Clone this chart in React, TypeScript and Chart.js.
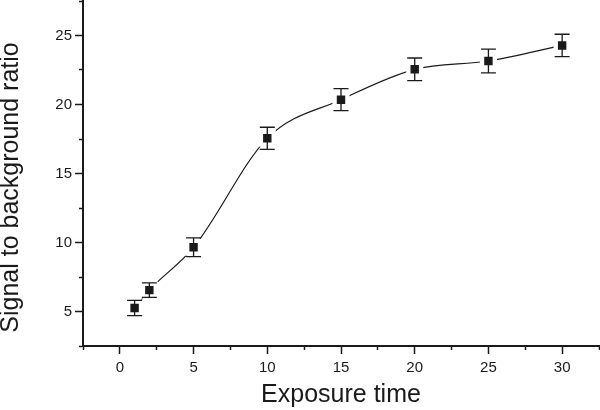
import { useEffect, useRef } from "react";
import { Chart, registerables } from "chart.js";

Chart.register(...registerables);

// ---- data ----
const exposureTimes = [1, 2, 5, 10, 15, 20, 25, 30];
const ratios = [5.25, 6.55, 9.65, 17.55, 20.35, 22.55, 23.15, 24.28];
const ratioErrors = [0.55, 0.52, 0.68, 0.8, 0.8, 0.82, 0.86, 0.81];
const xMajorTicks = [0, 5, 10, 15, 20, 25, 30];
const yMajorTicks = [5, 10, 15, 20, 25];
const xTitle = "Exposure time";
const yTitle = "Signal to background ratio";

const FONT = '"Liberation Sans", Arial, Helvetica, sans-serif';
const INK = "#1a1a1a";

function stepTicks(min: number, max: number, step: number) {
  const out: { value: number }[] = [];
  for (let v = min; v <= max + 1e-9; v += step) out.push({ value: Math.round(v * 100) / 100 });
  return out;
}

function zeroPadding(s: any) {
  s.paddingLeft = 0;
  s.paddingRight = 0;
  s.paddingTop = 0;
  s.paddingBottom = 0;
}

const errorBarPlugin = {
  id: "errorBars",
  afterDatasetsDraw(chart: any) {
    const { ctx, scales } = chart;
    const x = scales.x;
    const y = scales.y;
    ctx.save();
    ctx.strokeStyle = INK;
    ctx.lineWidth = 1.3;
    exposureTimes.forEach((t, i) => {
      const px = x.getPixelForValue(t);
      const top = y.getPixelForValue(ratios[i] + ratioErrors[i]);
      const bot = y.getPixelForValue(ratios[i] - ratioErrors[i]);
      ctx.beginPath();
      ctx.moveTo(px, top);
      ctx.lineTo(px, bot);
      ctx.moveTo(px - 7.5, top);
      ctx.lineTo(px + 7.5, top);
      ctx.moveTo(px - 7.5, bot);
      ctx.lineTo(px + 7.5, bot);
      ctx.stroke();
    });
    ctx.restore();
  },
};

const yTitlePlugin = {
  id: "yTitleText",
  afterDraw(chart: any) {
    const ctx = chart.ctx;
    const area = chart.chartArea;
    ctx.save();
    ctx.translate(11, (area.top + area.bottom) / 2 + 14);
    ctx.rotate(-Math.PI / 2);
    ctx.font = `25px ${FONT}`;
    ctx.fillStyle = INK;
    ctx.textAlign = "center";
    ctx.textBaseline = "middle";
    ctx.fillText(yTitle, 0, 0);
    ctx.restore();
  },
};

export default function App() {
  const canvasRef = useRef<HTMLCanvasElement | null>(null);

  useEffect(() => {
    document.body.style.margin = "0";
    const canvas = canvasRef.current;
    if (!canvas) return;
    const chart = new Chart(canvas, {
      type: "line",
      data: {
        datasets: [
          {
            data: exposureTimes.map((t, i) => ({ x: t, y: ratios[i] })),
            borderColor: INK,
            borderWidth: 1.2,
            cubicInterpolationMode: "monotone",
            fill: false,
            pointStyle: "rect",
            pointRadius: 9,
            pointBackgroundColor: INK,
            pointBorderColor: "#ffffff",
            pointBorderWidth: 4.3,
            pointHoverRadius: 9,
            clip: false,
          } as any,
        ],
      },
      options: {
        animation: false,
        responsive: false,
        events: [],
        layout: { autoPadding: false, padding: { top: 1, right: 1, left: 0, bottom: 0 } },
        plugins: { legend: { display: false }, tooltip: { enabled: false } },
        scales: {
          x: {
            type: "linear",
            min: -2.5,
            max: 32.5,
            afterBuildTicks: (s: any) => {
              s.ticks = stepTicks(-2.5, 32.5, 2.5);
            },
            afterFit: (s: any) => {
              s.height = 64;
              zeroPadding(s);
            },
            ticks: {
              autoSkip: false,
              maxRotation: 0,
              padding: 5,
              color: INK,
              font: { size: 15, family: FONT },
              callback: (v: any) => (xMajorTicks.includes(Number(v)) ? String(v) : ""),
            },
            grid: {
              drawOnChartArea: false,
              drawTicks: true,
              tickLength: 8,
              tickWidth: 1.5,
              tickColor: INK,
              tickBorderDash: (c: any) =>
                c.tick && xMajorTicks.includes(c.tick.value) ? [] : [3, 100],
            } as any,
            border: { display: true, color: INK, width: 2 },
            title: {
              display: true,
              text: xTitle,
              color: INK,
              font: { size: 25, family: FONT, lineHeight: 1 },
              padding: { top: 0, bottom: 2 },
            },
          },
          y: {
            type: "linear",
            min: 2.5,
            max: 27.5,
            afterBuildTicks: (s: any) => {
              s.ticks = stepTicks(2.5, 27.5, 2.5);
            },
            afterFit: (s: any) => {
              s.width = 83;
              zeroPadding(s);
            },
            ticks: {
              autoSkip: false,
              padding: 3,
              color: INK,
              font: { size: 15, family: FONT },
              callback: (v: any) => (yMajorTicks.includes(Number(v)) ? String(v) : ""),
            },
            grid: {
              drawOnChartArea: false,
              drawTicks: true,
              tickLength: 8,
              tickWidth: 1.5,
              tickColor: INK,
              tickBorderDash: (c: any) =>
                c.tick && yMajorTicks.includes(c.tick.value) ? [] : [0, 4, 3, 100],
            } as any,
            border: { display: true, color: INK, width: 2 },
            title: { display: false },
          },
        },
      },
      plugins: [errorBarPlugin, yTitlePlugin],
    });
    return () => chart.destroy();
  }, []);

  return (
    <div style={{ width: 600, height: 410 }}>
      <canvas ref={canvasRef} width={600} height={410} />
    </div>
  );
}
